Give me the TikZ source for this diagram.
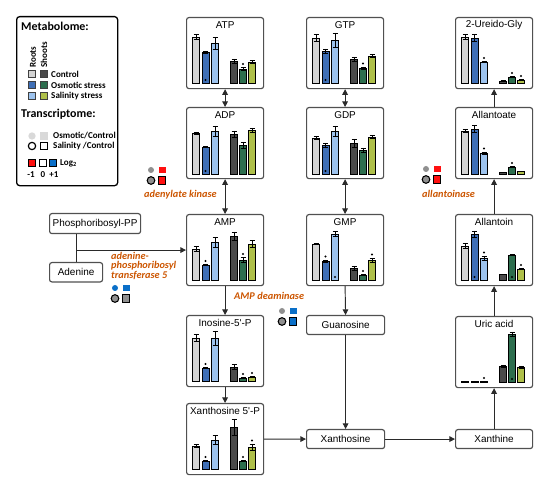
\documentclass[tikz,border=0pt]{standalone}
\usepackage{fontspec}
\setmainfont{Liberation Sans}[Ligatures=TeXOff]
\newfontfamily\calib{Carlito}
\usetikzlibrary{arrows.meta,calc}
\definecolor{barc1}{HTML}{D4D4D4}
\definecolor{barc2}{HTML}{3F6FB6}
\definecolor{barc3}{HTML}{9DC3EE}
\definecolor{barc4}{HTML}{4A4A4A}
\definecolor{barc5}{HTML}{2D6E4E}
\definecolor{barc6}{HTML}{AFC04A}
\definecolor{boxc}{HTML}{505050}
\definecolor{linec}{HTML}{2A2A2A}
\definecolor{enzc}{RGB}{204,85,0}
\definecolor{lgrey}{HTML}{D9D9D9}
\definecolor{mgrey}{HTML}{909090}
\definecolor{ered}{HTML}{FF1010}
\definecolor{eblue}{HTML}{0A6FC8}
\newcommand\boxfont{\fontsize{8.5}{10}\selectfont}
\newcommand\enzfont{\calib\bfseries\itshape\fontsize{8.8}{7.3}\selectfont}
\newcommand\barsat[3]{%
  \foreach \h/\e/\m [count=\i] in {#3} {
    \pgfmathsetmacro\off{{10,19.5,29,48,57,66}[\i-1]}
    \draw[barline, fill=barc\i] ({#1+\off-3.7},#2) rectangle ({#1+\off+3.7},{#2-\h});
    \ifdim\e pt>0pt
      \draw[errline] ({#1+\off},{#2-\h-\e}) -- ({#1+\off},{#2-\h+\e})
        ({#1+\off-2.5},{#2-\h-\e}) -- ({#1+\off+2.5},{#2-\h-\e})
        ({#1+\off-2.5},{#2-\h+\e}) -- ({#1+\off+2.5},{#2-\h+\e});
    \fi
    \ifnum\m=1 \fill ({#1+\off},{#2-\h-\e-3.5}) circle[radius=0.032cm]; \fi
    \ifnum\m=2 \fill ({#1+\off},{#2-3}) circle[radius=0.032cm]; \fi
  }}
\newcommand\metab[4]{%
  \node[mbox, anchor=north west] (#1) at (#2,#3) {};
  \node[ttl] (#1-t) at ($(#1.north)+(0,8)$) {#4};}
\newcommand\enzicons[6]{%
  \fill[#3] (#1,#2) circle[radius=0.09cm];
  \fill[#4] ({#1+8},{#2-3}) rectangle ++(6.5,6.5);
  \draw[fill=#5, line width=0.9pt] (#1,{#2+10.5}) circle[radius=0.115cm];
  \draw[fill=#6, line width=0.9pt] ({#1+7.3},{#2+6.8}) rectangle ++(7.6,7.6);}
\begin{document}
\begin{tikzpicture}[x=0.03cm,y=-0.03cm,
  mbox/.style={draw=boxc, line width=1pt, rounded corners=0.07cm, fill=white, inner sep=0, minimum width=2.31cm, minimum height=2.13cm},
  sbox/.style={draw=boxc, line width=1pt, rounded corners=0.07cm, fill=white, inner sep=0, minimum height=0.57cm, font=\boxfont},
  ttl/.style={font=\boxfont, inner sep=0},
  conn/.style={draw=linec, line width=0.8pt, -{Triangle[length=1.7mm,width=1.7mm]}},
  dbl/.style={draw=linec, line width=0.8pt, {Triangle[length=1.7mm,width=1.7mm]}-{Triangle[length=1.7mm,width=1.7mm]}},
  plain/.style={draw=linec, line width=0.8pt},
  enzl/.style={font=\enzfont, text=enzc, inner sep=0},
  barline/.style={draw=black, line width=0.4pt},
  errline/.style={draw=black, line width=0.5pt},
  legbox/.style={draw=black, line width=1.1pt, rounded corners=0.09cm, inner sep=0, minimum width=3.03cm, minimum height=5.07cm},
  lhead/.style={font=\calib\bfseries\fontsize{10.2}{12}\selectfont, inner sep=0},
  litem/.style={font=\calib\bfseries\fontsize{7.7}{9}\selectfont, inner sep=0},
  lsq/.style={draw=black!75, line width=0.5pt, minimum size=0.22cm, inner sep=0}]
\useasboundingbox (0,0) rectangle (550,485);
% legend
\node[legbox, anchor=north west] (leg) at (16,16) {};
\node[lhead, anchor=west] (lmet) at (21,26) {Metabolome:};
\node[litem, rotate=90, anchor=west] (lroots) at (33,68) {Roots};
\node[litem, rotate=90, anchor=west] (lshoots) at (44,68) {Shoots};
\node[lsq, fill=barc1] (lq1) at (32,74) {};
\node[lsq, fill=barc4] (lq4) at (44,74) {};
\node[lsq, fill=barc2] (lq2) at (32,85) {};
\node[lsq, fill=barc5] (lq5) at (44,85) {};
\node[lsq, fill=barc3] (lq3) at (32,96) {};
\node[lsq, fill=barc6] (lq6) at (44,96) {};
\node[litem, anchor=west] (lctl) at (51,74) {Control};
\node[litem, anchor=west] (losm) at (51,85) {Osmotic stress};
\node[litem, anchor=west] (lsal) at (51,96) {Salinity stress};
\node[lhead, anchor=west] (ltra) at (21,114) {Transcriptome:};
\node[circle, fill=lgrey, minimum size=0.22cm, inner sep=0] (lc1) at (32,136) {};
\node[fill=lgrey, minimum size=0.22cm, inner sep=0] (ls1) at (44,136) {};
\node[circle, draw=black, line width=1pt, minimum size=0.22cm, inner sep=0] (lc2) at (32,146) {};
\node[draw=black, line width=1pt, minimum size=0.22cm, inner sep=0] (ls2) at (44,146) {};
\node[litem, anchor=west] (lto) at (53,136) {Osmotic/Control};
\node[litem, anchor=west] (lts) at (53,146) {Salinity /Control};
\node[draw=black, line width=0.8pt, fill=ered, minimum size=0.22cm, inner sep=0] (lr) at (32,163) {};
\node[draw=black, line width=0.8pt, fill=white, minimum size=0.22cm, inner sep=0] (lw) at (43,163) {};
\node[draw=black, line width=0.8pt, fill=eblue, minimum size=0.22cm, inner sep=0] (lb) at (53,163) {};
\node[litem, anchor=west] (llog) at (60,163) {Log\textsubscript{2}};
\node[litem] (lm1) at (31,175) {-1};
\node[litem] (l0) at (43,175) {0};
\node[litem] (lp1) at (54,175) {+1};
% boxes
\metab{atp}{186}{17}{ATP}
\metab{adp}{186}{107}{ADP}
\metab{amp}{186}{214}{AMP}
\metab{ino}{186}{315}{Inosine-5'-P}
\metab{xmp}{186}{403}{Xanthosine 5'-P}
\metab{gtp}{306}{17}{GTP}
\metab{gdp}{306}{107}{GDP}
\metab{gmp}{306}{214}{GMP}
\metab{ureg}{455}{17}{2-Ureido-Gly}
\metab{allt}{455}{107}{Allantoate}
\metab{alln}{455}{214}{Allantoin}
\metab{uric}{455}{316}{Uric acid}
\node[sbox, anchor=north west, minimum width=2.34cm] (guo) at (306,315) {Guanosine};
\node[sbox, anchor=north west, minimum width=2.34cm] (xao) at (306,429) {Xanthosine};
\node[sbox, anchor=north west, minimum width=2.31cm] (xan) at (455,429) {Xanthine};
\node[sbox, anchor=north west, minimum width=2.73cm, minimum height=0.6cm] (prpp) at (49,213) {Phosphoribosyl-PP};
\node[sbox, anchor=north west, minimum width=1.59cm, minimum height=0.58cm] (ade) at (49,262) {Adenine};
% bars
\barsat{186}{83}{46/2.5/0, 31/1/2, 40/6/0, 22/2/0, 14/1.5/1, 21/1.5/0}
\barsat{186}{174}{41/1/0, 27/0.5/2, 43/5/0, 40/3/0, 29/3/0, 44/2/0}
\barsat{186}{280}{31/2.5/0, 15/0.5/1, 38/5/0, 44/4/0, 20/2.5/1, 36/3.5/0}
\barsat{186}{381}{43/3.5/0, 13/0.5/1, 43/7/0, 14/2.5/0, 3/0.5/1, 4/0.5/1}
\barsat{186}{469}{23/1.5/0, 8/0.5/1, 29/4.5/0, 42/8/0, 8/0.5/1, 22/3/1}
\barsat{306}{83}{45/3.5/0, 32/2/2, 43/7/0, 24/2/0, 15/1/1, 27/1.5/0}
\barsat{306}{174}{36/1.5/0, 29/2/2, 43/5/0, 31/4/0, 24/2/0, 37/1.5/0}
\barsat{306}{280}{36/0.5/0, 19/1/1, 46/2.5/2, 12/2/0, 5/0.5/1, 20/2/1}
\barsat{455}{83}{46/2.5/0, 45/3.5/0, 21/0.5/1, 2/0.3/0, 6/0.5/1, 3/0.5/1}
\barsat{455}{174}{43/1.5/0, 45/3.5/0, 21/1/1, 2/0/0, 7/0.5/1, 3/0/0}
\barsat{455}{280}{34/2.5/0, 46/3/2, 22/2/1, 6/0/0, 25/0.5/2, 11/0.5/1}
\barsat{455}{382}{0.5/0/0, 0.5/0/0, 0.5/0/1, 16/1/0, 48/2/2, 15/1/0}
% connectors
\draw[dbl] (atp.south) -- (adp.north);
\draw[dbl] (adp.south) -- (amp.north);
\draw[conn] (amp.south) -- (ino.north);
\draw[conn] (ino.south) -- (xmp.north);
\draw[conn] (xmp.east) -- (xao.west);
\draw[dbl] (gtp.south) -- (gdp.north);
\draw[dbl] (gdp.south) -- (gmp.north);
\draw[conn] (gmp.south) -- (guo.north);
\draw[conn] (guo.south) -- (xao.north);
\draw[conn] (xao.east) -- (xan.west);
\draw[conn] (xan.north) -- (uric.south);
\draw[conn] (uric.north) -- (alln.south);
\draw[conn] (alln.north) -- (allt.south);
\draw[conn] (allt.north) -- (ureg.south);
\draw[plain] (prpp.south -| ade.north) -- (ade.north);
\coordinate (j) at (ade.north |- amp.west);
\draw[conn] (j) -- (amp.west);
% enzymes
\node[enzl, anchor=west] (ak) at (144,195) {adenylate kinase};
\enzicons{151}{170}{mgrey}{ered}{mgrey}{ered}
\node[enzl, anchor=west, align=left] (aprt) at (111,266) {adenine-\\phosphoribosyl\\transferase 5};
\enzicons{115}{288}{eblue}{eblue}{mgrey}{mgrey}
\node[enzl, anchor=west] (ampd) at (234,296) {AMP deaminase};
\enzicons{282}{311}{mgrey}{eblue}{mgrey}{eblue}
\node[enzl, anchor=west] (alla) at (422,194) {allantoinase};
\enzicons{426}{169}{mgrey}{ered}{mgrey}{ered}
\end{tikzpicture}
\end{document}
